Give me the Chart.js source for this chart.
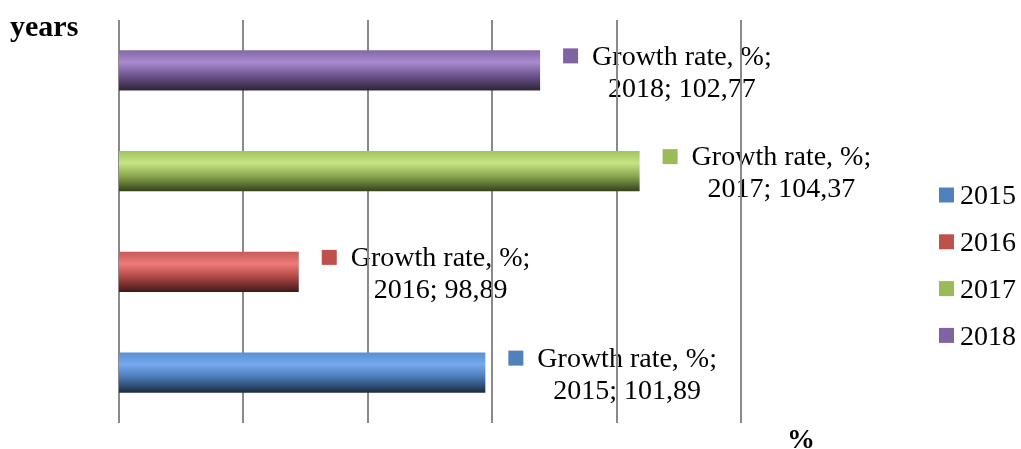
<!DOCTYPE html>
<html>
<head>
<meta charset="utf-8">
<script src="https://cdn.jsdelivr.net/npm/chart.js@4.4.1/dist/chart.umd.min.js"></script>
<style>
  html, body { margin: 0; padding: 0; background: #fff; }
  #wrap { width: 1021px; height: 449px; }
</style>
</head>
<body>
<div id="wrap"><canvas id="growthChart"></canvas></div>
<script>
const years = ['2015', '2016', '2017', '2018'];
const growthRate = [101.89, 98.89, 104.37, 102.77];
const valueText = ['101,89', '98,89', '104,37', '102,77'];
const seriesName = 'Growth rate, %';
const xMin = 96, xMax = 106, xStep = 2;

// base colour + gradient stops (top, highlight, middle, bottom) per year
const baseColors = ['#4f81bd', '#c0504d', '#9bbb59', '#8064a2'];
const shades = [
    ['#5b8fd4', '#75aaef', '#4a78b4', '#1a2a40'],
    ['#c55a57', '#ef7b77', '#b04845', '#3e1817'],
    ['#a2c35f', '#c6e486', '#8ba84d', '#34411c'],
    ['#8467a6', '#a98bcf', '#6e5590', '#2e2438']
];

const FONT = '"Liberation Serif", "DejaVu Serif", serif';
const BAR_PCT = 0.4;

function barFill(ctx) {
    const chart = ctx.chart;
    const i = ctx.dataIndex;
    if (!chart.chartArea || i === undefined) return baseColors[i] || baseColors[0];
    const y = chart.scales.y;
    const band = Math.abs(y.getPixelForValue(1) - y.getPixelForValue(0));
    const c = y.getPixelForValue(i);
    const half = band * BAR_PCT / 2;
    const g = chart.ctx.createLinearGradient(0, c - half, 0, c + half);
    const s = shades[i];
    g.addColorStop(0, s[0]);
    g.addColorStop(0.3, s[1]);
    g.addColorStop(0.62, s[2]);
    g.addColorStop(1, s[3]);
    return g;
}

// labels drawn before the grid so the grid lines cross them, like the original
const labelPlugin = {
    id: 'labelPlugin',
    beforeDraw(chart) {
        const ctx = chart.ctx;
        const meta = chart.getDatasetMeta(0);
        ctx.save();
        ctx.fillStyle = '#fff';
        ctx.fillRect(0, 0, chart.width, chart.height);
        ctx.font = '28px ' + FONT;
        ctx.textBaseline = 'middle';
        meta.data.forEach((bar, i) => {
            const x0 = bar.x + 23;
            const y1 = bar.y - 13;
            const y2 = bar.y + 19;
            ctx.fillStyle = baseColors[i];
            ctx.fillRect(x0, y1 - 9, 15, 15);
            const line1 = seriesName + ';';
            const tx = x0 + 29;
            const w1 = ctx.measureText(line1).width;
            ctx.fillStyle = '#000';
            ctx.textAlign = 'left';
            ctx.fillText(line1, tx, y1);
            ctx.textAlign = 'center';
            ctx.fillText(years[i] + '; ' + valueText[i], tx + w1 / 2, y2);
        });
        ctx.restore();
    },
    afterDraw(chart) {
        const ctx = chart.ctx;
        ctx.save();
        ctx.textBaseline = 'middle';
        ctx.fillStyle = '#000';
        ctx.font = 'bold 30px ' + FONT;
        ctx.textAlign = 'left';
        ctx.fillText('years', 10, 28);
        ctx.font = 'bold 28px ' + FONT;
        ctx.textAlign = 'center';
        ctx.fillText('%', 801, 441);
        // legend
        ctx.font = '28px ' + FONT;
        ctx.textAlign = 'left';
        years.forEach((yr, i) => {
            const cy = 195 + i * 46.8;
            ctx.fillStyle = baseColors[i];
            ctx.fillRect(939, cy - 7.5, 15, 15);
            ctx.fillStyle = '#000';
            ctx.fillText(yr, 960, cy + 2);
        });
        ctx.restore();
    }
};

new Chart(document.getElementById('growthChart'), {
    type: 'bar',
    data: {
        labels: years,
        datasets: [{
            label: seriesName,
            data: growthRate,
            backgroundColor: barFill,
            borderWidth: 0,
            categoryPercentage: 1,
            barPercentage: BAR_PCT
        }]
    },
    options: {
        indexAxis: 'y',
        responsive: true,
        maintainAspectRatio: false,
        animation: false,
        layout: { padding: { left: 119, right: 280, top: 20, bottom: 26 } },
        plugins: {
            legend: { display: false },
            tooltip: { enabled: false }
        },
        scales: {
            x: {
                min: xMin,
                max: xMax,
                ticks: { display: false, stepSize: xStep },
                grid: { color: '#8a8a8a', lineWidth: 2, drawTicks: false },
                border: { display: false }
            },
            y: {
                display: false,
                reverse: true
            }
        }
    },
    plugins: [labelPlugin]
});
</script>
</body>
</html>
